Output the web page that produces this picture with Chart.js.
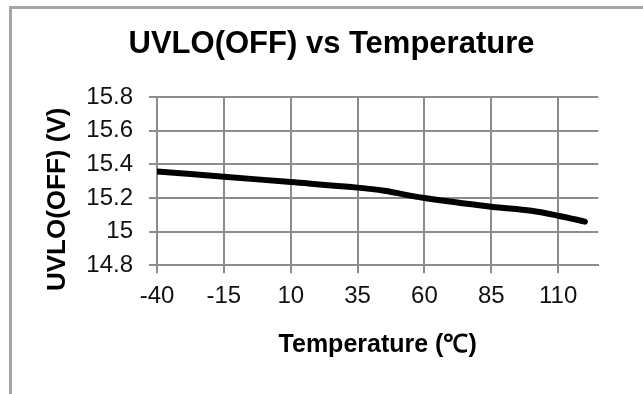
<!DOCTYPE html>
<html>
<head>
<meta charset="utf-8">
<script src="https://cdn.jsdelivr.net/npm/chart.js@4.4.1/dist/chart.umd.min.js"></script>
<style>
  html, body { margin: 0; padding: 0; background: #fff; }
  .wrap { position: relative; width: 643px; height: 394px; overflow: hidden; }
  .frame {
    position: absolute; left: 9px; top: 6px; width: 700px; height: 500px;
    border-left: 3px solid #a6a6a6; border-top: 3px solid #a6a6a6;
    pointer-events: none;
  }
  canvas { position: absolute; left: 0; top: 0; }
</style>
</head>
<body>
<div class="wrap">
  <canvas id="chart" width="643" height="394"></canvas>
  <div class="frame"></div>
</div>
<script>
const temps = [-40, -15, 10, 35, 45, 60, 85, 100, 110, 120];
const uvloOff = [15.358, 15.327, 15.295, 15.262, 15.243, 15.2, 15.148, 15.124, 15.095, 15.06];
const xTicks = [-40, -15, 10, 35, 60, 85, 110];
const yTicks = [14.8, 15, 15.2, 15.4, 15.6, 15.8];

const gridGrey = '#8c8c8c';
const ctx = document.getElementById('chart').getContext('2d');

new Chart(ctx, {
    type: 'line',
    data: {
        datasets: [{
            label: 'UVLO(OFF)',
            data: temps.map((t, i) => ({ x: t, y: uvloOff[i] })),
            borderColor: '#000',
            borderWidth: 6,
            borderCapStyle: 'round',
            pointRadius: 0,
            tension: 0.35,
            fill: false,
        }],
    },
    options: {
        responsive: false,
        animation: false,
        layout: { padding: { left: 20, right: 0, top: 0, bottom: 0 } },
        plugins: {
            legend: { display: false },
            tooltip: { enabled: false },
            title: {
                display: true,
                text: 'UVLO(OFF) vs Temperature',
                color: '#000',
                font: { family: 'Liberation Sans, Arial, sans-serif', size: 31, weight: 'bold' },
                padding: { top: 26, bottom: 34 },
            },
        },
        scales: {
            x: {
                type: 'linear',
                min: -40,
                max: 125,
                afterBuildTicks: s => { s.ticks = xTicks.map(v => ({ value: v })); },
                afterFit: s => { s.height = 128.7; s.paddingRight = 44.7; },
                grid: { color: gridGrey, lineWidth: 2, tickLength: 8, tickColor: gridGrey },
                border: { color: gridGrey, width: 2 },
                ticks: {
                    color: '#111',
                    padding: 9,
                    maxRotation: 0,
                    font: { family: 'Liberation Sans, Arial, sans-serif', size: 24 },
                    callback: v => String(v),
                },
                title: {
                    display: true,
                    text: 'Temperature (℃)',
                    color: '#000',
                    font: { family: 'Liberation Sans, Arial, sans-serif', size: 25, weight: 'bold' },
                    padding: { top: 0, bottom: 34 },
                },
            },
            y: {
                min: 14.8,
                max: 15.8,
                afterBuildTicks: s => { s.ticks = yTicks.map(v => ({ value: v })); },
                afterFit: s => { s.width = 137; },
                grid: { color: gridGrey, lineWidth: 2, tickLength: 8, tickColor: gridGrey },
                border: { color: gridGrey, width: 2 },
                ticks: {
                    color: '#111',
                    padding: 16,
                    font: { family: 'Liberation Sans, Arial, sans-serif', size: 24 },
                    callback: v => String(+v.toFixed(1)),
                },
                title: {
                    display: true,
                    text: 'UVLO(OFF) (V)     ',
                    color: '#000',
                    font: { family: 'Liberation Sans, Arial, sans-serif', size: 26, weight: 'bold' },
                    padding: { top: 22, bottom: 0 },
                },
            },
        },
    },
});
</script>
</body>
</html>
